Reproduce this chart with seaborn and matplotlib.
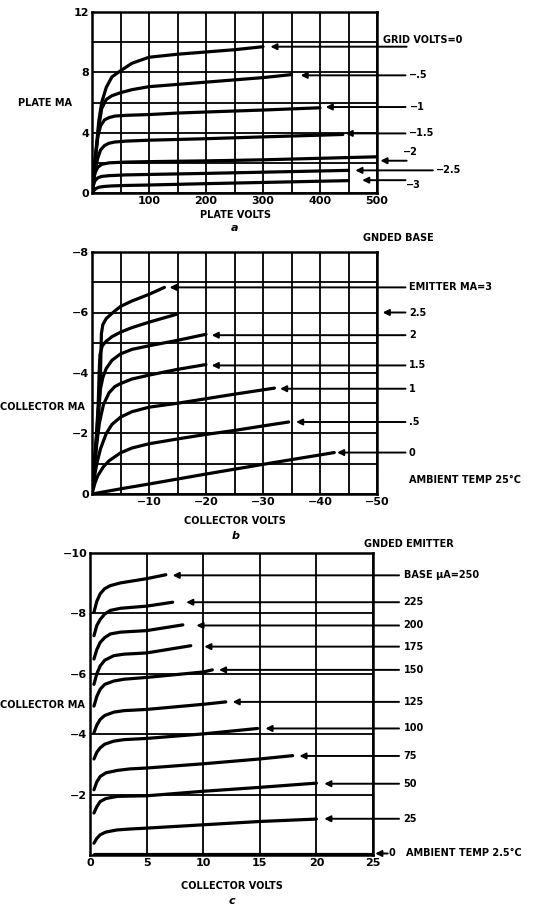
import numpy as np
import pandas as pd
import matplotlib
matplotlib.use('Agg')
import matplotlib.pyplot as plt
import seaborn as sns

# ---- panel a: plate volts / plate mA, one curve per grid voltage
grid_volts = ['0', '-.5', '-1', '-1.5', '-2', '-2.5', '-3']
a_volts = [
    [0, 4, 8, 12, 17, 25, 35, 50, 70, 100, 150, 200, 250, 300],
    [0, 4, 8, 12, 17, 25, 35, 50, 70, 100, 150, 200, 250, 300, 350],
    [0, 3, 6, 10, 15, 22, 30, 40, 60, 100, 150, 200, 300, 400],
    [0, 3, 6, 10, 15, 22, 30, 40, 60, 100, 200, 300, 440],
    [0, 2, 5, 10, 17, 30, 60, 100, 200, 300, 400, 500],
    [0, 2, 5, 10, 17, 30, 60, 100, 200, 300, 450],
    [0, 3, 7, 12, 20, 35, 60, 100, 200, 300, 450],
]
a_ma = [
    [0, 1.5, 3.2, 4.8, 6.0, 7.0, 7.7, 8.1, 8.6, 9.0, 9.2, 9.35, 9.5, 9.7],
    [0, 1.4, 3.0, 4.4, 5.6, 6.2, 6.45, 6.65, 6.85, 7.05, 7.2, 7.35, 7.5, 7.65, 7.85],
    [0, 1.1, 2.4, 3.7, 4.45, 4.85, 5.0, 5.1, 5.15, 5.2, 5.3, 5.37, 5.5, 5.65],
    [0, 0.8, 1.6, 2.3, 2.85, 3.15, 3.3, 3.38, 3.44, 3.5, 3.6, 3.72, 3.88],
    [0, 0.7, 1.3, 1.7, 1.9, 2.0, 2.05, 2.08, 2.13, 2.2, 2.3, 2.4],
    [0, 0.45, 0.8, 1.0, 1.1, 1.15, 1.2, 1.23, 1.3, 1.38, 1.5],
    [0, 0.15, 0.3, 0.38, 0.43, 0.47, 0.5, 0.53, 0.62, 0.7, 0.82],
]
# arrow head x, arrow y, tail x, label, label x, label y
a_arrow_head = [313, 366, 410, 445, 506, 462, 474]
a_arrow_y = [9.7, 7.8, 5.7, 3.95, 2.14, 1.5, 0.85]
a_arrow_tail = [552, 550, 550, 550, 552, 598, 550]
a_labels = ['GRID VOLTS=0', '\u2212.5', '\u22121', '\u22121.5', '\u22122', '\u22122.5', '\u22123']
a_label_x = [510, 556, 558, 556, 546, 604, 550]
a_label_y = [10.15, 7.8, 5.7, 3.95, 2.7, 1.55, 0.55]

# ---- panel b: grounded base transistor
emitter_ma = ['3', '2.5', '2', '1.5', '1', '.5', '0']
b_volts = [
    [0, -0.5, -1.0, -1.4, -1.55, -1.65, -1.9, -2.5, -3.2, -4, -5, -7, -10, -12.7],
    [0, -0.4, -0.8, -1.1, -1.25, -1.4, -1.8, -2.5, -3.5, -5, -7, -10, -15],
    [0, -0.4, -0.8, -1.1, -1.4, -1.9, -2.5, -3.5, -5, -7, -10, -15, -20],
    [0, -0.4, -0.8, -1.3, -2, -3, -4, -5, -7, -10, -15, -20],
    [0, -0.4, -0.9, -1.5, -2.5, -3.5, -5, -7, -10, -15, -20, -25, -32],
    [0, -0.5, -1, -2, -3, -4, -5, -7, -10, -15, -20, -25, -30, -34.5],
    [0, -5, -10, -20, -30, -42.5],
]
b_ma = [
    [0, -1.0, -2.2, -3.3, -4.5, -5.3, -5.6, -5.8, -5.92, -6.05, -6.2, -6.38, -6.6, -6.83],
    [0, -1.0, -2.0, -3.0, -4.0, -4.6, -4.9, -5.05, -5.2, -5.35, -5.5, -5.68, -5.95],
    [0, -0.9, -1.9, -2.8, -3.4, -3.85, -4.15, -4.42, -4.63, -4.78, -4.9, -5.08, -5.28],
    [0, -0.8, -1.6, -2.35, -2.95, -3.35, -3.55, -3.65, -3.8, -3.93, -4.12, -4.28],
    [0, -0.55, -1.05, -1.5, -2.0, -2.3, -2.54, -2.72, -2.87, -3.0, -3.15, -3.3, -3.5],
    [0, -0.35, -0.6, -0.9, -1.1, -1.23, -1.36, -1.52, -1.66, -1.82, -1.97, -2.1, -2.25, -2.38],
    [0, -0.17, -0.33, -0.66, -0.98, -1.37],
]
b_arrow_head = [-13.6, -51, -21, -21, -33, -35.8, -43]
b_arrow_y = [-6.83, -6.0, -5.25, -4.25, -3.48, -2.38, -1.37]
b_labels = ['EMITTER MA=3', '2.5', '2', '1.5', '1', '.5', '0']

# ---- panel c: grounded emitter transistor
base_ua = ['250', '225', '200', '175', '150', '125', '100', '75', '50', '25', '0']
c_volts = [
    [0.35, 0.6, 0.9, 1.3, 1.8, 2.7, 5, 6.7],
    [0.35, 0.6, 0.9, 1.3, 1.8, 2.7, 5, 7.3],
    [0.35, 0.6, 0.9, 1.3, 1.8, 2.7, 5, 8.2],
    [0.35, 0.6, 0.9, 1.3, 2.1, 3, 5, 8.9],
    [0.35, 0.6, 0.9, 1.3, 2.1, 3, 5, 10, 10.8],
    [0.35, 0.6, 0.9, 1.3, 2.1, 3, 5, 10, 12],
    [0.35, 0.6, 0.9, 1.3, 2.1, 3, 5, 10, 14.8],
    [0.35, 0.6, 0.9, 1.4, 2.4, 3.5, 5, 10, 15, 17.9],
    [0.35, 0.6, 0.9, 1.4, 2.4, 3.5, 5, 10, 15, 20],
    [0.35, 0.6, 0.9, 1.4, 2.4, 3.5, 5, 10, 15, 20],
    [0.35, 25],
]
c_ma = [
    [-8.04, -8.4, -8.65, -8.82, -8.92, -9.01, -9.15, -9.28],
    [-7.26, -7.6, -7.8, -7.98, -8.1, -8.17, -8.24, -8.37],
    [-6.49, -6.8, -7.04, -7.2, -7.32, -7.38, -7.43, -7.62],
    [-5.65, -6.0, -6.26, -6.45, -6.6, -6.65, -6.69, -6.93],
    [-4.93, -5.25, -5.49, -5.65, -5.76, -5.82, -5.88, -6.06, -6.13],
    [-4.05, -4.3, -4.49, -4.62, -4.73, -4.78, -4.82, -4.99, -5.07],
    [-3.18, -3.4, -3.55, -3.67, -3.77, -3.82, -3.86, -4.01, -4.19],
    [-2.16, -2.42, -2.6, -2.72, -2.8, -2.85, -2.88, -3.02, -3.18, -3.29],
    [-1.39, -1.6, -1.77, -1.87, -1.94, -1.95, -1.96, -2.11, -2.24, -2.38],
    [-0.39, -0.55, -0.67, -0.76, -0.83, -0.86, -0.89, -1.0, -1.11, -1.19],
    [-0.03, -0.03],
]
c_arrow_head = [7.3, 8.5, 9.4, 10.1, 11.4, 12.6, 15.5, 18.5, 20.7, 20.7]
c_arrow_y = [-9.26, -8.37, -7.6, -6.9, -6.13, -5.07, -4.19, -3.28, -2.36, -1.2]
c_labels = ['BASE \u00b5A=250', '225', '200', '175', '150', '125', '100', '75', '50', '25']


def long_table(names, xs, ys):
    parts = []
    for n, x, y in zip(names, xs, ys):
        parts.append(pd.DataFrame({'curve': n, 'volts': x, 'ma': y}))
    return pd.concat(parts, ignore_index=True)


sns.set_style('white')
plt.rcParams['font.family'] = ['DejaVu Sans']
plt.rcParams['font.weight'] = 'bold'
plt.rcParams['text.color'] = 'black'
plt.rcParams['xtick.color'] = 'black'
plt.rcParams['ytick.color'] = 'black'

W, H = 548, 909
fig = plt.figure(figsize=(W / 100, H / 100), dpi=100)


def box(l, t, r, b):
    return [l / W, 1 - b / H, (r - l) / W, (b - t) / H]


ax_a = fig.add_axes(box(92, 12, 377, 193))
ax_b = fig.add_axes(box(92, 252, 377, 494))
ax_c = fig.add_axes(box(90, 553, 373, 855))

txt = dict(fontsize=7, fontweight='bold', color='k', clip_on=False)
arrow = dict(arrowstyle='-|>', color='k', lw=1.4, mutation_scale=9,
             shrinkA=0, shrinkB=0)


def style(ax, xlim, ylim, xmaj, xmin, ymaj, ymin):
    ax.set_xlim(*xlim)
    ax.set_ylim(*ylim)
    ax.set_xticks(xmaj)
    ax.set_xticks(xmin, minor=True)
    ax.set_yticks(ymaj)
    ax.set_yticks(ymin, minor=True)
    ax.grid(True, which='both', color='k', lw=1.3)
    ax.tick_params(which='both', length=0, pad=2, labelsize=8,
                   labelcolor='k')
    for lab in ax.get_xticklabels() + ax.get_yticklabels():
        lab.set_fontweight('bold')
    for s in ax.spines.values():
        s.set_color('k')
        s.set_linewidth(1.8)
    ax.set_xlabel('')
    ax.set_ylabel('')


# panel a
df_a = long_table(grid_volts, a_volts, a_ma)
sns.lineplot(data=df_a, x='volts', y='ma', units='curve', estimator=None,
             sort=False, color='k', lw=2.3, ax=ax_a, legend=False)
style(ax_a, (0, 500), (0, 12), [100, 200, 300, 400, 500],
      np.arange(50, 500, 50), [0, 4, 8, 12], np.arange(2, 12, 2))
for hx, yy, tx, lab, lx, ly in zip(a_arrow_head, a_arrow_y, a_arrow_tail,
                                   a_labels, a_label_x, a_label_y):
    ax_a.annotate('', xy=(hx, yy), xytext=(tx, yy), arrowprops=arrow,
                  annotation_clip=False)
    ax_a.text(lx, ly, lab, ha='left', va='center', **txt)

# panel b
df_b = long_table(emitter_ma, b_volts, b_ma)
sns.lineplot(data=df_b, x='volts', y='ma', units='curve', estimator=None,
             sort=False, color='k', lw=2.3, ax=ax_b, legend=False)
style(ax_b, (0, -50), (0, -8), [-10, -20, -30, -40, -50],
      np.arange(-5, -50, -5), [0, -2, -4, -6, -8], np.arange(-1, -8, -1))
for hx, yy, lab in zip(b_arrow_head, b_arrow_y, b_labels):
    ax_b.annotate('', xy=(hx, yy), xytext=(-55, yy), arrowprops=arrow,
                  annotation_clip=False)
    ax_b.text(-55.6, yy, lab, ha='left', va='center', **txt)
ax_b.text(-47.5, -8.45, 'GNDED BASE', ha='left', va='center', **txt)
ax_b.text(-55.6, -0.45, 'AMBIENT TEMP 25\u00b0C', ha='left', va='center', **txt)

# panel c
df_c = long_table(base_ua, c_volts, c_ma)
sns.lineplot(data=df_c, x='volts', y='ma', units='curve', estimator=None,
             sort=False, color='k', lw=2.3, ax=ax_c, legend=False)
style(ax_c, (0, 25), (0, -10), [0, 5, 10, 15, 20, 25], [],
      [-10, -8, -6, -4, -2], [])
for hx, yy, lab in zip(c_arrow_head, c_arrow_y, c_labels):
    ax_c.annotate('', xy=(hx, yy), xytext=(27.3, yy), arrowprops=arrow,
                  annotation_clip=False)
    ax_c.text(27.7, yy, lab, ha='left', va='center', **txt)
ax_c.annotate('', xy=(25.2, -0.05), xytext=(26.3, -0.05), arrowprops=arrow,
              annotation_clip=False)
ax_c.text(26.4, -0.05, '0', ha='left', va='center', **txt)
ax_c.text(27.9, -0.05, 'AMBIENT TEMP 2.5\u00b0C', ha='left', va='center', **txt)
ax_c.text(24.2, -10.3, 'GNDED EMITTER', ha='left', va='center', **txt)

# axis titles and panel letters
ft = dict(fontsize=7, fontweight='bold', color='k', ha='center', va='center')
fig.text(45 / W, 1 - 103 / H, 'PLATE MA', **ft)
fig.text(235 / W, 1 - 215 / H, 'PLATE VOLTS', **ft)
fig.text(235 / W, 1 - 228 / H, 'a', fontsize=8, style='italic', color='k', ha='center', va='center')
fig.text(42 / W, 1 - 407 / H, 'COLLECTOR MA', **ft)
fig.text(235 / W, 1 - 521 / H, 'COLLECTOR VOLTS', **ft)
fig.text(236 / W, 1 - 536 / H, 'b', fontsize=8, style='italic', color='k', ha='center', va='center')
fig.text(42 / W, 1 - 705 / H, 'COLLECTOR MA', **ft)
fig.text(232 / W, 1 - 886 / H, 'COLLECTOR VOLTS', **ft)
fig.text(232 / W, 1 - 901 / H, 'c', fontsize=8, style='italic', color='k', ha='center', va='center')

fig.savefig('out.png', dpi=100)
